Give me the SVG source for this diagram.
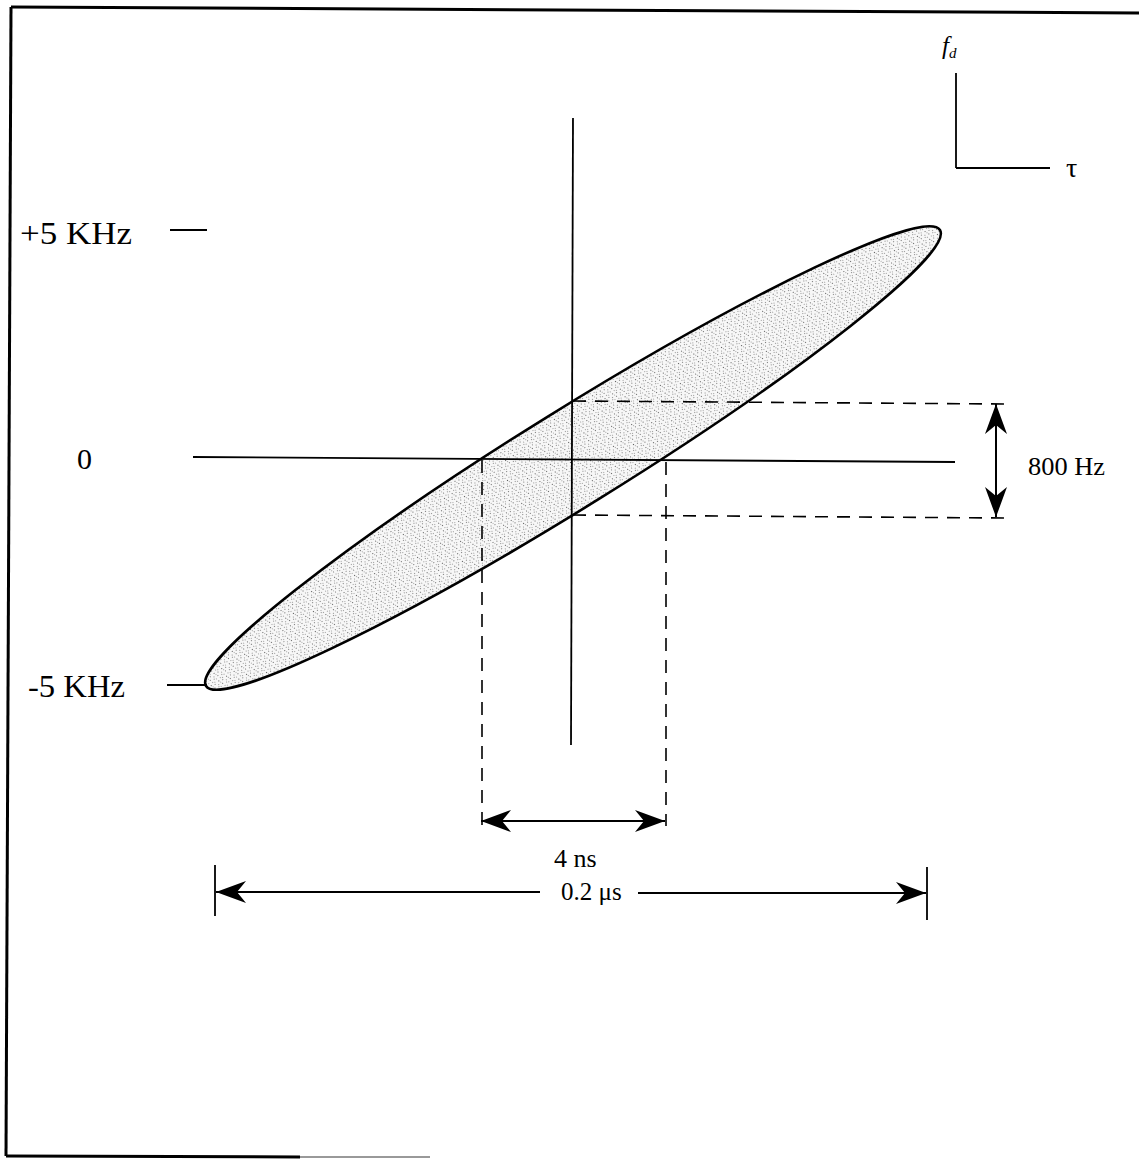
<svg xmlns="http://www.w3.org/2000/svg" width="1139" height="1163" viewBox="0 0 1139 1163">
<style>
.t{font-family:"Liberation Serif","Times New Roman",serif;fill:#000}
.ln{stroke:#000;stroke-width:1.8;fill:none}
.dash{stroke:#000;stroke-width:1.6;fill:none;stroke-dasharray:13 9}
.arr{stroke:#000;stroke-width:2;fill:none}
</style>
<defs>
<pattern id="stip" width="9" height="9" patternUnits="userSpaceOnUse">
<rect width="9" height="9" fill="#f7f7f7"/>
<rect x="1" y="1" width="1" height="1" fill="#5a5a5a"/>
<rect x="5" y="2" width="1" height="1" fill="#7a7a7a"/>
<rect x="3" y="5" width="1" height="1" fill="#6a6a6a"/>
<rect x="7" y="6" width="1" height="1" fill="#8a8a8a"/>
<rect x="0" y="7" width="1" height="1" fill="#9a9a9a"/>
<rect x="6" y="0" width="1" height="1" fill="#a0a0a0"/>
<rect x="2" y="3" width="1" height="1" fill="#a5a5a5"/>
<rect x="8" y="4" width="1" height="1" fill="#959595"/>
<rect x="4" y="8" width="1" height="1" fill="#9a9a9a"/>
</pattern>
<marker id="ah" viewBox="-32 -12 34 24" refX="0" refY="0" markerWidth="34" markerHeight="24" markerUnits="userSpaceOnUse" orient="auto-start-reverse">
<path d="M0,0 L-30,-11 L-21,0 L-30,11 Z" fill="#000"/>
</marker>
</defs>
<rect width="1139" height="1163" fill="#fff"/>

<g id="frame">
<path d="M11,7 L1139,13" stroke="#000" stroke-width="3" fill="none"/>
<path d="M11,7 L6,1156" stroke="#000" stroke-width="3" fill="none"/>
<path d="M6,1156 L300,1157" stroke="#000" stroke-width="3" fill="none"/>
<path d="M300,1157 L430,1157" stroke="#999" stroke-width="2" fill="none"/>
</g>

<g id="ellipse">
<ellipse cx="573" cy="458" rx="432" ry="48.5" transform="rotate(-31.85 573 458)" fill="url(#stip)" stroke="#000" stroke-width="2.6"/>
</g>

<g id="connectors">
<line id="vaxis" class="ln" x1="573" y1="118" x2="571" y2="745"/>
<line id="haxis" class="ln" x1="193" y1="457" x2="955" y2="462"/>
<line class="dash" x1="573" y1="401" x2="1005" y2="404"/>
<line class="dash" x1="573" y1="515" x2="1005" y2="518"/>
<line class="dash" x1="482" y1="460" x2="482" y2="826"/>
<line class="dash" x1="666" y1="462" x2="666" y2="826"/>
<line class="ln" x1="170" y1="230" x2="207" y2="230"/>
<line class="ln" x1="167" y1="685" x2="207" y2="685"/>
<line class="arr" x1="996" y1="404" x2="996" y2="517" marker-start="url(#ah)" marker-end="url(#ah)"/>
<line class="arr" x1="481" y1="821" x2="665" y2="821" marker-start="url(#ah)" marker-end="url(#ah)"/>
<line class="ln" x1="215" y1="865" x2="215" y2="916"/>
<line class="ln" x1="927" y1="867" x2="927" y2="920"/>
<line class="arr" x1="216" y1="892" x2="540" y2="892" marker-start="url(#ah)"/>
<line class="arr" x1="638" y1="893" x2="926" y2="893" marker-end="url(#ah)"/>
<line class="ln" x1="956" y1="73" x2="956" y2="168"/>
<line class="ln" x1="956" y1="168" x2="1050" y2="168"/>
</g>

<g id="labels">
<text id="lbl-p5" class="t" x="20" y="244" font-size="31" textLength="112" lengthAdjust="spacingAndGlyphs">+5 KHz</text>
<text id="lbl-0" class="t" x="77" y="469" font-size="30">0</text>
<text id="lbl-m5" class="t" x="28" y="697" font-size="31" textLength="97" lengthAdjust="spacingAndGlyphs">-5 KHz</text>
<text id="lbl-800" class="t" x="1028" y="475" font-size="25" textLength="77" lengthAdjust="spacingAndGlyphs">800 Hz</text>
<text id="lbl-4ns" class="t" x="554" y="867" font-size="26">4 ns</text>
<text id="lbl-02" class="t" x="561" y="900" font-size="25">0.2 μs</text>
<text id="lbl-fd" class="t" x="942" y="54" font-size="25" font-style="italic">f<tspan font-size="15" dy="4">d</tspan></text>
<text id="lbl-tau" class="t" x="1066" y="177" font-size="28">τ</text>
</g>
</svg>
